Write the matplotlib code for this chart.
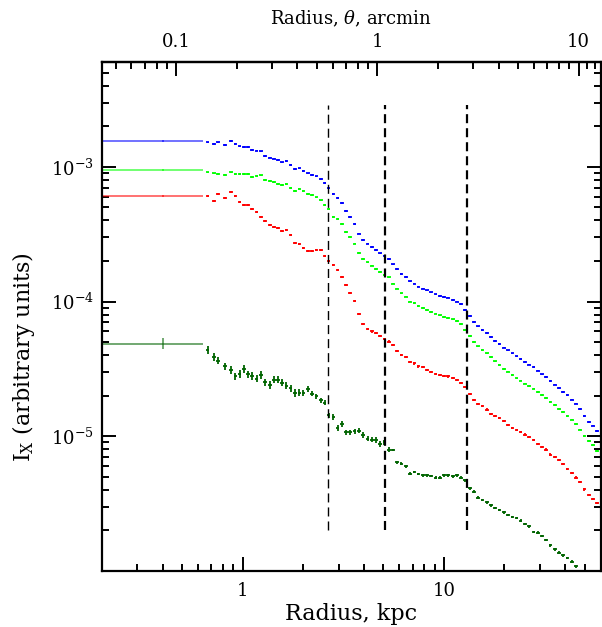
import numpy as np
import matplotlib
matplotlib.use("Agg")
import matplotlib.pyplot as plt
from matplotlib.ticker import LogLocator, FixedLocator, FuncFormatter, NullFormatter

plt.rcParams["font.family"] = ["DejaVu Serif"]
plt.rcParams["mathtext.fontset"] = "dejavuserif"
plt.rcParams["lines.scale_dashes"] = False

# radial bins (kpc), shared by all profiles
radius = np.array([
    0.669, 0.721, 0.755, 0.815, 0.872, 0.920, 0.966, 1.015, 1.062, 1.114, 1.173,
    1.232, 1.295, 1.363, 1.429, 1.498, 1.572, 1.648, 1.730, 1.824, 1.915,
    2.004, 2.105, 2.213, 2.325, 2.442, 2.556, 2.675, 2.822, 2.964, 3.116, 3.262,
    3.426, 3.596, 3.782, 3.972, 4.172, 4.386, 4.591, 4.822, 5.064, 5.325, 5.592, 5.867,
    6.148, 6.464, 6.788, 7.129, 7.462, 7.846, 8.239, 8.653, 9.097, 9.555, 10.03,
    10.50, 11.08, 11.64, 12.18, 12.75, 13.45, 14.08, 14.79, 15.55, 16.38, 17.15, 17.99,
    18.87, 19.82, 20.81, 21.88, 22.98, 24.05, 25.26, 26.56, 27.90, 29.30, 30.81, 32.25,
    33.86, 35.56, 37.39, 39.13, 41.11, 43.17, 45.18, 47.51, 49.89, 52.64, 55.10, 57.67,
])

# surface brightness, units of 1e-5
blue = np.array([
    152, 147, 152, 145, 156, 147, 142, 140, 140, 134, 132, 130, 120, 117, 115, 112,
    108, 111, 103, 96.6, 97.3,
    92.9, 89.4, 87.2, 84.9, 81.1, 75.7, 69.2, 62.8, 58.9, 53.8, 47.2, 42.6, 37.8,
    31.9, 28.5, 26.9, 25.4, 24.2, 22.8, 21.9, 20.8, 18.9, 17.4,
    16.0, 15.2, 14.1, 13.6, 12.9, 12.5, 12.1, 11.7, 11.3, 11.0, 10.8, 10.7, 10.3,
    10.0, 9.62, 8.68, 7.84, 7.07, 6.53, 6.17, 5.86, 5.48, 5.12,
    4.86, 4.56, 4.34, 4.12, 3.91, 3.74, 3.57, 3.41, 3.27, 3.07, 2.88, 2.74, 2.56,
    2.42, 2.28, 2.14, 2.03, 1.87, 1.75, 1.60, 1.42, 1.28, 1.20, 1.10,
])
green = np.array([
    90.9, 89.4, 88.3, 86.8, 90.9, 88.3, 88.3, 88.3, 88.3, 84.3, 85.8, 86.4, 80.1,
    78.8, 77.0, 74.8, 73.6, 74.8, 69.9, 66.1, 68.7,
    66.4, 63.1, 61.7, 59.3, 56.4, 52.0, 48.4, 42.6, 40.8, 37.6, 33.0, 30.2, 26.9,
    22.9, 20.7, 19.5, 18.5, 17.5, 16.5, 15.8, 15.1, 13.6, 12.5,
    11.5, 10.9, 10.0, 9.73, 9.29, 8.98, 8.64, 8.39, 8.15, 7.88, 7.66, 7.57, 7.36,
    7.16, 6.84, 6.17, 5.57, 5.00, 4.64, 4.37, 4.12, 3.87, 3.59,
    3.38, 3.17, 3.02, 2.85, 2.69, 2.59, 2.46, 2.35, 2.26, 2.14, 2.03, 1.93, 1.80,
    1.70, 1.60, 1.51, 1.42, 1.33, 1.24, 1.12, 1.01, 0.918, 0.858, 0.774,
])
red = np.array([
    60.7, 55.7, 63.1, 58.9, 64.6, 60.7, 55.0, 52.0, 52.0, 48.9, 45.9, 42.4, 39.6,
    37.2, 35.8, 35.0, 33.6, 34.0, 31.2, 27.2, 26.7,
    25.1, 23.8, 23.8, 24.0, 24.0, 21.9, 20.0, 18.8, 17.2, 15.3, 13.3, 11.5, 10.1,
    8.07, 6.84, 6.28, 6.00, 5.86, 5.57, 5.27, 5.05, 4.74, 4.31,
    4.03, 3.85, 3.56, 3.47, 3.30, 3.27, 3.10, 3.00, 2.91, 2.86, 2.82, 2.78, 2.72,
    2.62, 2.50, 2.31, 2.07, 1.86, 1.73, 1.67, 1.58, 1.47, 1.42,
    1.36, 1.29, 1.21, 1.15, 1.12, 1.07, 1.03, 0.990, 0.945, 0.879, 0.835, 0.797,
    0.732, 0.699, 0.669, 0.625, 0.574, 0.532, 0.494, 0.456, 0.403, 0.366, 0.340, 0.321,
])
dgreen = np.array([
    4.37, 3.87, 3.64, 3.30, 3.10, 2.78, 2.91, 3.17, 2.88, 2.80, 2.68, 2.86, 2.51,
    2.40, 2.63, 2.63, 2.50, 2.38, 2.27, 2.10, 2.11,
    2.10, 2.25, 2.07, 1.98, 1.85, 1.78, 1.43, 1.39, 1.15, 1.23, 1.07, 1.07, 1.09,
    1.10, 1.02, 0.962, 0.945, 0.940, 0.879, 0.903, 0.797, 0.793, 0.642,
    0.625, 0.597, 0.527, 0.543, 0.525, 0.513, 0.513, 0.507, 0.494, 0.494, 0.514,
    0.514, 0.503, 0.514, 0.493, 0.470, 0.410, 0.387, 0.351, 0.336, 0.324, 0.307, 0.294,
    0.284, 0.272, 0.261, 0.252, 0.248, 0.236, 0.223, 0.215, 0.195, 0.193, 0.182,
    0.170, 0.155, 0.145, 0.137, 0.131, 0.125, 0.117, 0.108, 0.098,
])

# innermost (wide) bin
inner_r, inner_lo, inner_hi = 0.40, 0.19, 0.634
inner = {"blue": 156, "green": 95.0, "red": 61.0, "dgreen": 4.86}

break_radii = [2.65, 5.09, 12.98]
KPC_PER_ARCMIN = 4.67

series = [
    ("blue", blue, "#0000ff", 0.006),
    ("green", green, "#00ff00", 0.006),
    ("red", red, "#ff0000", 0.008),
    ("dgreen", dgreen, "#006400", None),
]

fig = plt.figure(figsize=(6.02, 6.27), dpi=100)
ax = fig.add_axes([102 / 602, 56 / 627, 498.5 / 602, 509 / 627])
ax.set_xscale("log")
ax.set_yscale("log")

dx = 10 ** 0.009
for key, vals, col, edex in series:
    y = vals * 1e-5
    x = radius[:len(y)]
    if edex is None:
        edex = np.where(x < 2.0, 0.028, np.where(x < 5.5, 0.02, 0.01))
    yerr = [y - y * 10 ** -edex, y * 10 ** edex - y]
    ax.errorbar(x, y, xerr=[x - x / dx, x * dx - x], yerr=yerr, fmt="none",
                ecolor=col, elinewidth=1.3, capsize=0)
    y0 = inner[key] * 1e-5
    e0 = 0.04 if key == "dgreen" else 0.008
    ax.errorbar([inner_r], [y0], xerr=[[inner_r - inner_lo], [inner_hi - inner_r]],
                yerr=[[y0 - y0 * 10 ** -e0], [y0 * 10 ** e0 - y0]],
                fmt="none", ecolor=col, elinewidth=1.3, capsize=0, alpha=0.6)

for i, rb in enumerate(break_radii):
    lw = 1.0 if i == 0 else 1.6
    ax.plot([rb, rb], [2.0e-6, 2.9e-3], color="black", lw=lw,
            dashes=(6.5, 3.6), dash_capstyle="butt")

ax.set_xlim(0.2, 60)
ax.set_ylim(1e-6, 6e-3)

ax.xaxis.set_major_locator(FixedLocator([1, 10]))
ax.xaxis.set_minor_locator(FixedLocator(
    [0.3, 0.4, 0.5, 0.6, 0.7, 0.8, 0.9, 2, 3, 4, 5, 6, 7, 8, 9, 20, 30, 40, 50]))
ax.xaxis.set_major_formatter(FuncFormatter(lambda v, p: f"{v:g}"))
ax.xaxis.set_minor_formatter(NullFormatter())

def ylab(v, p):
    e = int(round(np.log10(v)))
    return "" if e <= -6 else r"$10^{%d}$" % e

ax.yaxis.set_major_locator(FixedLocator([1e-5, 1e-4, 1e-3]))
ax.yaxis.set_minor_locator(LogLocator(base=10, subs=np.arange(2, 10), numticks=30))
ax.yaxis.set_major_formatter(FuncFormatter(ylab))
ax.yaxis.set_minor_formatter(NullFormatter())

ax.tick_params(which="both", direction="in", top=False, right=True, width=1.4,
               labelsize=13)
ax.tick_params(which="major", length=10)
ax.tick_params(which="minor", length=5)
ax.tick_params(axis="x", pad=8)
ax.tick_params(axis="y", pad=6)
for s in ax.spines.values():
    s.set_linewidth(1.6)

sec = ax.secondary_xaxis("top", functions=(lambda r: r / KPC_PER_ARCMIN,
                                           lambda a: a * KPC_PER_ARCMIN))
sec.xaxis.set_major_locator(FixedLocator([0.1, 1, 10]))
sec.xaxis.set_minor_locator(FixedLocator(
    [0.05, 0.06, 0.07, 0.08, 0.09, 0.2, 0.3, 0.4, 0.5, 0.6, 0.7, 0.8, 0.9,
     2, 3, 4, 5, 6, 7, 8, 9, 11, 12]))
sec.xaxis.set_major_formatter(FuncFormatter(lambda v, p: f"{v:g}"))
sec.xaxis.set_minor_formatter(NullFormatter())
sec.tick_params(which="both", direction="in", width=1.4, labelsize=13, pad=8)
sec.tick_params(which="major", length=10)
sec.tick_params(which="minor", length=5)
sec.spines["top"].set_linewidth(1.6)
sec.set_xlabel(r"Radius, $\theta$, arcmin", fontsize=13, labelpad=6)

ax.set_xlabel("Radius, kpc", fontsize=16, labelpad=2)
ax.set_ylabel(r"I$_{\rm X}$ (arbitrary units)", fontsize=16, labelpad=8)
ax.yaxis.set_label_coords(-0.131, 0.42)

fig.savefig("out.png", dpi=100)
